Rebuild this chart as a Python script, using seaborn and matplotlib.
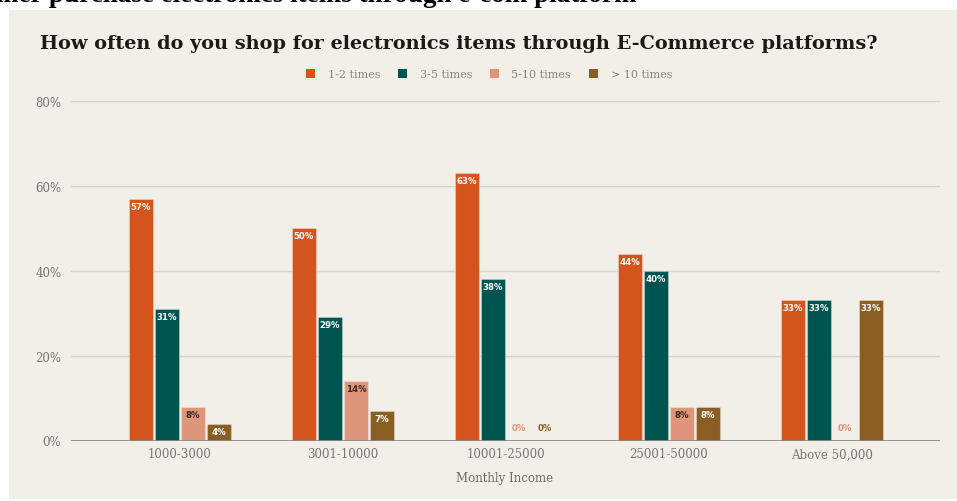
import matplotlib
matplotlib.use("Agg")
import matplotlib.pyplot as plt
from matplotlib.patches import Rectangle
import pandas as pd
import seaborn as sns

# ---- data ----
income_groups = ["1000-3000", "3001-10000", "10001-25000", "25001-50000", "Above 50,000"]
freq_levels = ["1-2 times", "3-5 times", "5-10 times", "> 10 times"]
pct_1_2 = [57, 50, 63, 44, 33]
pct_3_5 = [31, 29, 38, 40, 33]
pct_5_10 = [8, 14, 0, 8, 0]
pct_over_10 = [4, 7, 0, 8, 33]
y_ticks = [0, 20, 40, 60, 80]
y_tick_labels = ["0%", "20%", "40%", "60%", "80%"]

title = "How often do you shop for electronics items through E-Commerce platforms?"
heading = "Customer purchase electronics items through e-com platform"
x_title = "Monthly Income"

series = [pct_1_2, pct_3_5, pct_5_10, pct_over_10]
palette = ["#D4541D", "#00544F", "#DF957A", "#8A5E22"]
label_colors = ["white", "white", "#3a2b24", "white"]

rows = []
for level, vals in zip(freq_levels, series):
    for grp, v in zip(income_groups, vals):
        rows.append({"income": grp, "freq": level, "pct": v})
df = pd.DataFrame(rows)

# ---- style ----
sns.set_theme(style="white")
plt.rcParams["font.family"] = ["DejaVu Serif"]

W, H = 957, 502
fig = plt.figure(figsize=(W / 100, H / 100), dpi=100, facecolor="white")

# beige card behind the chart
fig.patches.append(Rectangle((9 / W, 1 - 500 / H), (W - 9) / W, (500 - 11) / H,
                             transform=fig.transFigure, facecolor="#F2EEE8",
                             edgecolor="none", zorder=-5))

# page heading above the card, running off the top edge
fig.text(637 / W, 1 - 2.0 / H, heading, ha="right", va="baseline",
         fontsize=19.5, fontweight="bold", family="Liberation Serif", color="black")

ax = fig.add_axes([71 / W, 1 - 441.5 / H, (940 - 71) / W, (441.5 - 102) / H])
ax.set_facecolor("none")

sns.barplot(data=df, x="income", y="pct", hue="freq", order=income_groups,
            hue_order=freq_levels, palette=palette, saturation=1,
            width=0.64, gap=0.08, errorbar=None, legend=False,
            edgecolor=(1, 1, 1, 0.3), linewidth=0.8, ax=ax, zorder=2)

ax.set_xlim(-0.669, 4.663)
ax.set_ylim(0, 80)
ax.set_yticks(y_ticks, y_tick_labels)
for s in ax.spines.values():
    s.set_visible(False)
ax.grid(axis="y", color="#D8D3CD", lw=1)
ax.grid(axis="x", visible=False)
ax.set_axisbelow(True)
ax.axhline(0, color="#8C8985", lw=2, zorder=3)

ax.tick_params(axis="both", length=0, labelsize=8.5, labelcolor="#7A7571")
ax.tick_params(axis="y", pad=7)
ax.tick_params(axis="x", pad=5)
ax.set_ylabel("")
ax.set_xlabel(x_title, fontsize=8.5, color="#6F6B67")
ax.xaxis.label.set_va("center")
ax.xaxis.set_label_coords(0.4994, (441.5 - 479) / (441.5 - 102))

# value labels
for cont, vals, col, tcol in zip(ax.containers, series, palette, label_colors):
    for bar, v in zip(cont, vals):
        xc = bar.get_x() + bar.get_width() / 2
        if v > 0:
            ax.annotate(f"{v}%", (xc, v), xytext=(0, -5.4), textcoords="offset points",
                        ha="center", va="center", fontsize=6.2, fontweight="bold",
                        family="DejaVu Sans", color=tcol, zorder=4)
        else:
            ax.annotate(f"{v}%", (xc, 0), xytext=(0, 9.4), textcoords="offset points",
                        ha="center", va="center", fontsize=6.2, fontweight="bold",
                        family="DejaVu Sans", color=col, zorder=4)

# title and legend
fig.text(40 / W, 1 - 49.3 / H, title, ha="left", va="baseline", fontsize=13.9,
         fontweight="bold", color="#1C1A19")

handles = [Rectangle((0, 0), 1, 1, facecolor=c, edgecolor="none") for c in palette]
fig.legend(handles, freq_levels, loc="center", bbox_to_anchor=(489 / W, 1 - 75 / H),
           ncol=4, frameon=False, fontsize=8, handlelength=0.85, handleheight=0.85,
           handletextpad=1.1, columnspacing=1.6, labelcolor="#8A8580")

fig.savefig("out.png", dpi=100, facecolor="white")
